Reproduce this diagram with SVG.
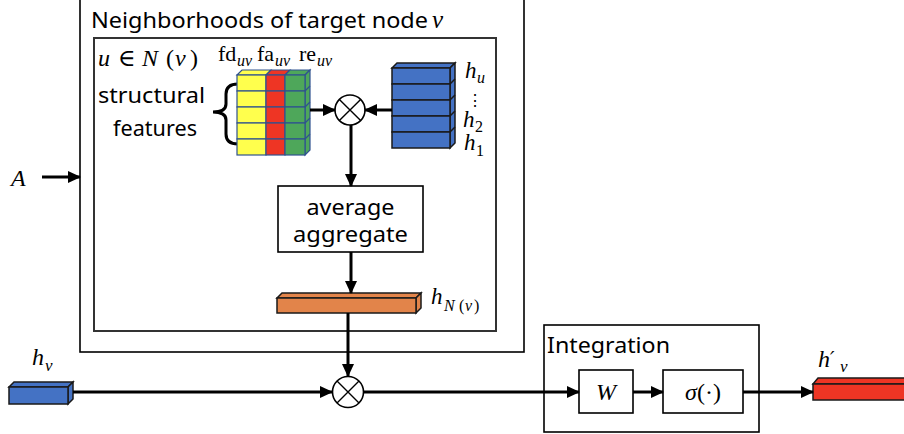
<svg xmlns="http://www.w3.org/2000/svg" width="904" height="434" viewBox="0 0 904 434">
  <defs>
    <marker id="arrow" markerUnits="userSpaceOnUse" markerWidth="13" markerHeight="12" refX="12" refY="6" orient="auto">
      <path d="M0,0 L13,6 L0,12 Z" fill="#000"/>
    </marker>
    <style>
      .frame { fill: #fff; stroke: #000; stroke-width: 1.6; }
      .inner { fill: #fff; stroke: #333; stroke-width: 2; }
      .conn { fill: none; stroke: #000; stroke-width: 3; }
      .sans { font-family: "Noto Sans", "Open Sans", "Liberation Sans", sans-serif; fill: #000; }
      .math { font-family: "Liberation Serif", "DejaVu Serif", serif; font-style: italic; fill: #000; }
      .rm { font-family: "Liberation Serif", "DejaVu Serif", serif; fill: #000; }
      .cell { stroke: #2F528F; stroke-width: 1.2; }
      .blk { stroke: #1a1a1a; stroke-width: 1.5; }
      .otimes { fill: #fff; stroke: #000; stroke-width: 1.6; }
    </style>
  </defs>

  <!-- neighbourhood frame -->
  <g id="neighborhood">
    <rect class="frame" x="80" y="-4" width="444" height="356"/>
    <text class="sans" x="91" y="28" font-size="21" textLength="337" lengthAdjust="spacingAndGlyphs">Neighborhoods of target node</text>
    <text class="math" x="432" y="28" font-size="25">v</text>
    <rect class="inner" x="94" y="38" width="402" height="293"/>
  </g>

  <!-- neighbour set and structural features -->
  <g id="features-label">
    <text class="math" x="98" y="66" font-size="24">u</text>
    <text class="rm" x="118" y="66" font-size="24">∈</text>
    <text class="math" x="142" y="66" font-size="24">N</text>
    <text class="rm" x="166" y="66" font-size="24">(</text>
    <text class="math" x="175" y="66" font-size="24">v</text>
    <text class="rm" x="190" y="66" font-size="24">)</text>
    <text class="rm" x="218" y="61" font-size="22">fd</text>
    <text class="math" x="237" y="66" font-size="16">uv</text>
    <text class="rm" x="257" y="61" font-size="22">fa</text>
    <text class="math" x="275" y="66" font-size="16">uv</text>
    <text class="rm" x="299" y="61" font-size="22">re</text>
    <text class="math" x="317" y="66" font-size="16">uv</text>
    <text class="sans" x="98" y="103" font-size="21" textLength="107" lengthAdjust="spacingAndGlyphs">structural</text>
    <text class="sans" x="113" y="136" font-size="21" textLength="84" lengthAdjust="spacingAndGlyphs">features</text>
    <path d="M238,84 Q226,84 226,94 V104 Q226,112 213,112 Q226,112 226,120 V134 Q226,144 238,144" fill="none" stroke="#000" stroke-width="3"/>
  </g>

  <!-- fd / fa / re feature columns -->
  <g id="feature-stack">
    <polygon class="cell" points="237,75 242,70 271,70 266,75" fill="#FFFF4D"/>
    <polygon class="cell" points="266,75 271,70 290,70 285,75" fill="#EE3524"/>
    <polygon class="cell" points="285,75 290,70 310,70 305,75" fill="#4EA75A"/>
    <polygon class="cell" points="305,75 310,70 310,150 305,155" fill="#4EA75A"/>
    <g fill="#FFFF4D">
      <rect class="cell" x="237" y="75" width="29" height="16"/>
      <rect class="cell" x="237" y="91" width="29" height="16"/>
      <rect class="cell" x="237" y="107" width="29" height="16"/>
      <rect class="cell" x="237" y="123" width="29" height="16"/>
      <rect class="cell" x="237" y="139" width="29" height="16"/>
    </g>
    <g fill="#EE3524">
      <rect class="cell" x="266" y="75" width="19" height="16"/>
      <rect class="cell" x="266" y="91" width="19" height="16"/>
      <rect class="cell" x="266" y="107" width="19" height="16"/>
      <rect class="cell" x="266" y="123" width="19" height="16"/>
      <rect class="cell" x="266" y="139" width="19" height="16"/>
    </g>
    <g fill="#4EA75A">
      <rect class="cell" x="285" y="75" width="20" height="16"/>
      <rect class="cell" x="285" y="91" width="20" height="16"/>
      <rect class="cell" x="285" y="107" width="20" height="16"/>
      <rect class="cell" x="285" y="123" width="20" height="16"/>
      <rect class="cell" x="285" y="139" width="20" height="16"/>
    </g>
    <path class="cell" d="M305,91 L310,86 M305,107 L310,102 M305,123 L310,118 M305,139 L310,134" fill="none"/>
  </g>

  <!-- neighbour embeddings h_1 ... h_u -->
  <g id="neighbor-embeddings">
    <polygon class="blk" points="392,68 397,63 455,63 450,68" fill="#4472C4"/>
    <polygon class="blk" points="450,68 455,63 455,143 450,148" fill="#4472C4"/>
    <g fill="#4472C4">
      <rect class="blk" x="392" y="68" width="58" height="16"/>
      <rect class="blk" x="392" y="84" width="58" height="16"/>
      <rect class="blk" x="392" y="100" width="58" height="16"/>
      <rect class="blk" x="392" y="116" width="58" height="16"/>
      <rect class="blk" x="392" y="132" width="58" height="16"/>
    </g>
    <path class="blk" d="M450,84 L455,79 M450,100 L455,95 M450,116 L455,111 M450,132 L455,127" fill="none"/>
    <text class="math" x="465" y="78" font-size="23">h</text>
    <text class="math" x="477" y="83" font-size="16">u</text>
    <text class="rm" x="467" y="106" font-size="16">⋮</text>
    <text class="math" x="463" y="127" font-size="23">h</text>
    <text class="rm" x="475" y="132" font-size="16">2</text>
    <text class="math" x="464" y="150" font-size="23">h</text>
    <text class="rm" x="476" y="156" font-size="16">1</text>
  </g>

  <!-- element-wise product of features and embeddings -->
  <g id="product-neighbors">
    <circle class="otimes" cx="350" cy="110" r="15"/>
    <path d="M339.4,99.4 L360.6,120.6 M360.6,99.4 L339.4,120.6" stroke="#000" stroke-width="1.4"/>
  </g>

  <g id="average-aggregate">
    <rect x="278" y="186" width="145" height="66" fill="#fff" stroke="#000" stroke-width="1.6"/>
    <text class="sans" x="350.5" y="215" font-size="21" text-anchor="middle" textLength="88" lengthAdjust="spacingAndGlyphs">average</text>
    <text class="sans" x="350.5" y="242" font-size="21" text-anchor="middle" textLength="115" lengthAdjust="spacingAndGlyphs">aggregate</text>
  </g>

  <!-- aggregated neighbourhood vector -->
  <g id="h-neighborhood">
    <polygon class="blk" points="277,298 282,293 421,293 416,298" fill="#E2844A"/>
    <polygon class="blk" points="416,298 421,293 421,308 416,313" fill="#E2844A"/>
    <rect class="blk" x="277" y="298" width="139" height="15" fill="#E2844A"/>
    <text class="math" x="431" y="304" font-size="23">h</text>
    <text class="math" x="444" y="311" font-size="16">N</text>
    <text class="rm" x="459" y="311" font-size="16">(</text>
    <text class="math" x="465" y="311" font-size="16">v</text>
    <text class="rm" x="474" y="311" font-size="16">)</text>
  </g>

  <g id="input-A">
    <text class="math" x="11" y="186" font-size="24">A</text>
  </g>

  <!-- target node embedding -->
  <g id="h-v">
    <polygon class="blk" points="9,387 14,382 73,382 68,387" fill="#4472C4"/>
    <polygon class="blk" points="68,387 73,382 73,399 68,404" fill="#4472C4"/>
    <rect class="blk" x="9" y="387" width="59" height="17" fill="#4472C4"/>
    <text class="math" x="32" y="365" font-size="24">h</text>
    <text class="math" x="45" y="371" font-size="17">v</text>
  </g>

  <g id="product-self">
    <circle class="otimes" cx="348" cy="392" r="15.5"/>
    <path d="M337,381 L359,403 M359,381 L337,403" stroke="#000" stroke-width="1.4"/>
  </g>

  <g id="integration">
    <rect class="frame" x="544" y="325" width="215" height="107"/>
    <text class="sans" x="547" y="353" font-size="21" textLength="123" lengthAdjust="spacingAndGlyphs">Integration</text>
  </g>

  <g id="weight-W">
    <rect x="579" y="370" width="54" height="43" fill="#fff" stroke="#000" stroke-width="1.6"/>
    <text class="math" x="606" y="400" font-size="24" text-anchor="middle">W</text>
  </g>

  <g id="activation">
    <rect x="663" y="370" width="80" height="43" fill="#fff" stroke="#000" stroke-width="1.6"/>
    <text x="703" y="400" font-size="24" text-anchor="middle"><tspan class="math">σ</tspan><tspan class="rm">(·)</tspan></text>
  </g>

  <!-- updated target node embedding -->
  <g id="h-v-out">
    <polygon class="blk" points="813,384 818,378 908,378 908,384" fill="#EE3524"/>
    <rect class="blk" x="813" y="384" width="95" height="16" fill="#EE3524"/>
    <text class="math" x="818" y="367" font-size="24">h</text>
    <text x="830" y="366" font-size="20" font-family="DejaVu Serif, serif" font-style="italic">′</text>
    <text class="math" x="840" y="372" font-size="17">v</text>
  </g>

  <g id="connectors">
    <line class="conn" x1="42" y1="177" x2="80" y2="177" marker-end="url(#arrow)"/>
    <line class="conn" x1="310" y1="110" x2="335" y2="110" marker-end="url(#arrow)"/>
    <line class="conn" x1="392" y1="110" x2="365" y2="110" marker-end="url(#arrow)"/>
    <line class="conn" x1="351" y1="125" x2="351" y2="186" marker-end="url(#arrow)"/>
    <line class="conn" x1="351" y1="252" x2="351" y2="293" marker-end="url(#arrow)"/>
    <line class="conn" x1="348" y1="313" x2="348" y2="376" marker-end="url(#arrow)"/>
    <line class="conn" x1="73" y1="392" x2="332" y2="392" marker-end="url(#arrow)"/>
    <line class="conn" x1="364" y1="392" x2="579" y2="392" marker-end="url(#arrow)"/>
    <line class="conn" x1="633" y1="392" x2="663" y2="392" marker-end="url(#arrow)"/>
    <line class="conn" x1="743" y1="392" x2="813" y2="392" marker-end="url(#arrow)"/>
  </g>
</svg>
